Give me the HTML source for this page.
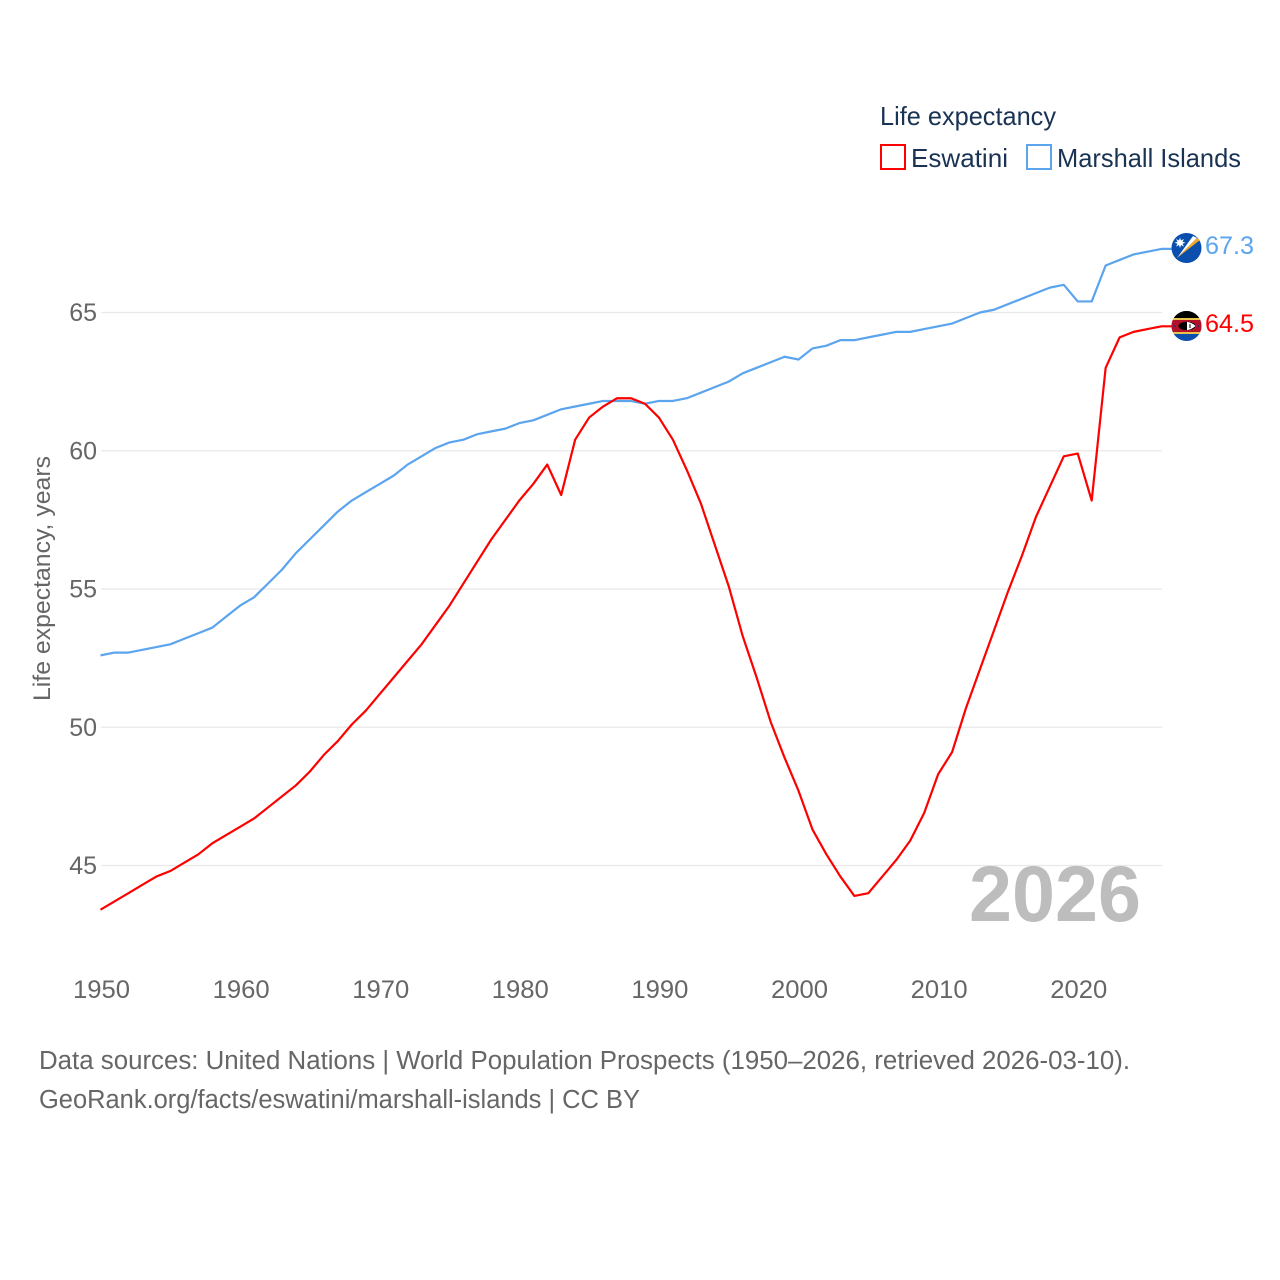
<!DOCTYPE html>
<html lang="en">
<head>
<meta charset="utf-8">
<title>Life expectancy: Eswatini and Marshall Islands</title>
<style>
html,body{margin:0;padding:0;background:#fff;width:1280px;height:1280px;overflow:hidden}
svg{display:block;font-family:"Liberation Sans",sans-serif}
</style>
</head>
<body>
<svg id="chart" xmlns="http://www.w3.org/2000/svg" width="1280" height="1280" viewBox="0 0 1280 1280">
  <rect width="1280" height="1280" fill="#fff"/>
  <g id="grid"></g>
  <g id="yticks"></g>
  <g id="xticks"></g>
  <text transform="translate(50,701) rotate(-90)" font-size="24.5" fill="#666" textLength="245" lengthAdjust="spacingAndGlyphs">Life expectancy, years</text>
  <text x="969" y="921" font-size="79" font-weight="700" fill="#bdbdbd" textLength="172" lengthAdjust="spacingAndGlyphs">2026</text>
  <g id="series"></g>

  <g>
    <text x="880" y="125" font-size="26" fill="#1a3353" textLength="176" lengthAdjust="spacingAndGlyphs">Life expectancy</text>
    <g>
      <rect x="881" y="145" width="24" height="24" fill="#fff" stroke="#ff0000" stroke-width="2"/>
      <text x="911" y="167" font-size="26" fill="#1a3353" textLength="97" lengthAdjust="spacingAndGlyphs">Eswatini</text>
    </g>
    <g>
      <rect x="1027" y="145" width="24" height="24" fill="#fff" stroke="#5ba4ee" stroke-width="2"/>
      <text x="1057" y="167" font-size="26" fill="#1a3353" textLength="184" lengthAdjust="spacingAndGlyphs">Marshall Islands</text>
    </g>
  </g>

  <defs>
    <clipPath id="flag-clip-mh"><circle cx="1186.5" cy="248" r="15"/></clipPath>
    <clipPath id="flag-clip-sz"><circle cx="1186.5" cy="326" r="15"/></clipPath>
  </defs>
  <g id="flag-marshall" clip-path="url(#flag-clip-mh)">
    <rect x="1171" y="233" width="31" height="31" fill="#0a4fae"/>
    <polygon points="1177,258 1193,236 1197,238" fill="#fff"/>
    <polygon points="1177,258 1197,238 1200,240" fill="#f5a623"/>
    <polygon points="1180,237.5 1181,240.5 1184,239 1182.5,241.8 1185.5,242.8 1182.5,243.8 1184,246.6 1181,245 1180,248 1179,245 1176,246.6 1177.5,243.8 1174.5,242.8 1177.5,241.8 1176,239 1179,240.5" fill="#fff"/>
  </g>
  <g id="flag-eswatini" clip-path="url(#flag-clip-sz)">
    <rect x="1171" y="311" width="31" height="31" fill="#0a4fae"/>
    <rect x="1171" y="311" width="31" height="7" fill="#000"/>
    <rect x="1171" y="318" width="31" height="16" fill="#e8c24a"/>
    <rect x="1171" y="320" width="31" height="12" fill="#b1122a"/>
    <ellipse cx="1187" cy="326" rx="8.5" ry="4.2" fill="#000"/>
    <path d="M1187 321.8 C1191 322.5 1194 324.5 1195.5 326 C1194 327.5 1191 329.5 1187 330.2 Z" fill="#fff"/>
    <rect x="1189.5" y="324" width="1" height="4" fill="#000"/>
    <circle cx="1175" cy="326" r="1" fill="#1a3a8a"/>
    <circle cx="1198" cy="326" r="1" fill="#1a3a8a"/>
  </g>

  <text x="1205" y="254" font-size="25" fill="#5ba4ee" textLength="49" lengthAdjust="spacingAndGlyphs">67.3</text>
  <text x="1205" y="332" font-size="25" fill="#ff0000" textLength="49" lengthAdjust="spacingAndGlyphs">64.5</text>

  <g>
    <text x="39" y="1069" font-size="25.5" fill="#666" textLength="1091" lengthAdjust="spacingAndGlyphs">Data sources: United Nations | World Population Prospects (1950–2026, retrieved 2026-03-10).</text>
    <text x="39" y="1108" font-size="25.5" fill="#666" textLength="601" lengthAdjust="spacingAndGlyphs">GeoRank.org/facts/eswatini/marshall-islands | CC BY</text>
  </g>
</svg>
<script>
const years = [1950,1951,1952,1953,1954,1955,1956,1957,1958,1959,1960,1961,1962,1963,1964,1965,1966,1967,1968,1969,1970,1971,1972,1973,1974,1975,1976,1977,1978,1979,1980,1981,1982,1983,1984,1985,1986,1987,1988,1989,1990,1991,1992,1993,1994,1995,1996,1997,1998,1999,2000,2001,2002,2003,2004,2005,2006,2007,2008,2009,2010,2011,2012,2013,2014,2015,2016,2017,2018,2019,2020,2021,2022,2023,2024,2025,2026];
const eswatini = [43.4,43.7,44.0,44.3,44.6,44.8,45.1,45.4,45.8,46.1,46.4,46.7,47.1,47.5,47.9,48.4,49.0,49.5,50.1,50.6,51.2,51.8,52.4,53.0,53.7,54.4,55.2,56.0,56.8,57.5,58.2,58.8,59.5,58.4,60.4,61.2,61.6,61.9,61.9,61.7,61.2,60.4,59.3,58.1,56.6,55.1,53.3,51.8,50.2,48.9,47.7,46.3,45.4,44.6,43.9,44.0,44.6,45.2,45.9,46.9,48.3,49.1,50.7,52.1,53.5,54.9,56.2,57.6,58.7,59.8,59.9,58.2,63.0,64.1,64.3,64.4,64.5];
const marshallIslands = [52.6,52.7,52.7,52.8,52.9,53.0,53.2,53.4,53.6,54.0,54.4,54.7,55.2,55.7,56.3,56.8,57.3,57.8,58.2,58.5,58.8,59.1,59.5,59.8,60.1,60.3,60.4,60.6,60.7,60.8,61.0,61.1,61.3,61.5,61.6,61.7,61.8,61.8,61.8,61.7,61.8,61.8,61.9,62.1,62.3,62.5,62.8,63.0,63.2,63.4,63.3,63.7,63.8,64.0,64.0,64.1,64.2,64.3,64.3,64.4,64.5,64.6,64.8,65.0,65.1,65.3,65.5,65.7,65.9,66.0,65.4,65.4,66.7,66.9,67.1,67.2,67.3];
const yTickValues = [45,50,55,60,65];
const xTickValues = [1950,1960,1970,1980,1990,2000,2010,2020];

const NS = 'http://www.w3.org/2000/svg';
function xScale(year){ return 100.5 + (year - 1950) * (1161.5 - 100.5) / (2026 - 1950); }
function yScale(value){ return 865.5 - (value - 45) * (865.5 - 312.5) / (65 - 45); }

const gridLayer = document.getElementById('grid');
const yTickLayer = document.getElementById('yticks');
const xTickLayer = document.getElementById('xticks');
const seriesLayer = document.getElementById('series');

yTickValues.forEach(function(v){
  const line = document.createElementNS(NS,'line');
  
  
  line.setAttribute('x1', xScale(1950) + 0.5);
  line.setAttribute('x2', xScale(2026) + 0.5);
  line.setAttribute('y1', yScale(v));
  line.setAttribute('y2', yScale(v));
  line.setAttribute('stroke', '#e8e8e8');
  line.setAttribute('stroke-width', '1.2');
  gridLayer.appendChild(line);
  const label = document.createElementNS(NS,'text');
  
  
  label.setAttribute('x', 97);
  label.setAttribute('y', yScale(v) + 8.5);
  label.setAttribute('text-anchor', 'end');
  label.setAttribute('font-size', '25');
  label.setAttribute('fill', '#666');
  label.textContent = v;
  yTickLayer.appendChild(label);
});

xTickValues.forEach(function(v){
  const label = document.createElementNS(NS,'text');
  
  
  label.setAttribute('x', xScale(v) + 1);
  label.setAttribute('y', 998);
  label.setAttribute('text-anchor', 'middle');
  label.setAttribute('font-size', '25');
  label.setAttribute('fill', '#666');
  label.setAttribute('textLength', '57');
  label.setAttribute('lengthAdjust', 'spacingAndGlyphs');
  label.textContent = v;
  xTickLayer.appendChild(label);
});

function drawSeries(values, color, name){
  const pts = values.map(function(v, i){ return xScale(years[i]).toFixed(2) + ',' + yScale(v).toFixed(2); });
  const last = values[values.length - 1];
  pts.push((xScale(2026) + 10).toFixed(2) + ',' + yScale(last).toFixed(2));
  const line = document.createElementNS(NS,'polyline');
  
  
  line.setAttribute('points', pts.join(' '));
  line.setAttribute('fill', 'none');
  line.setAttribute('stroke', color);
  line.setAttribute('stroke-width', '2.2');
  line.setAttribute('stroke-linejoin', 'round');
  seriesLayer.appendChild(line);
}
drawSeries(marshallIslands, '#5ba4ee', 'marshall-islands-line');
drawSeries(eswatini, '#ff0000', 'eswatini-line');
</script>
</body>
</html>
